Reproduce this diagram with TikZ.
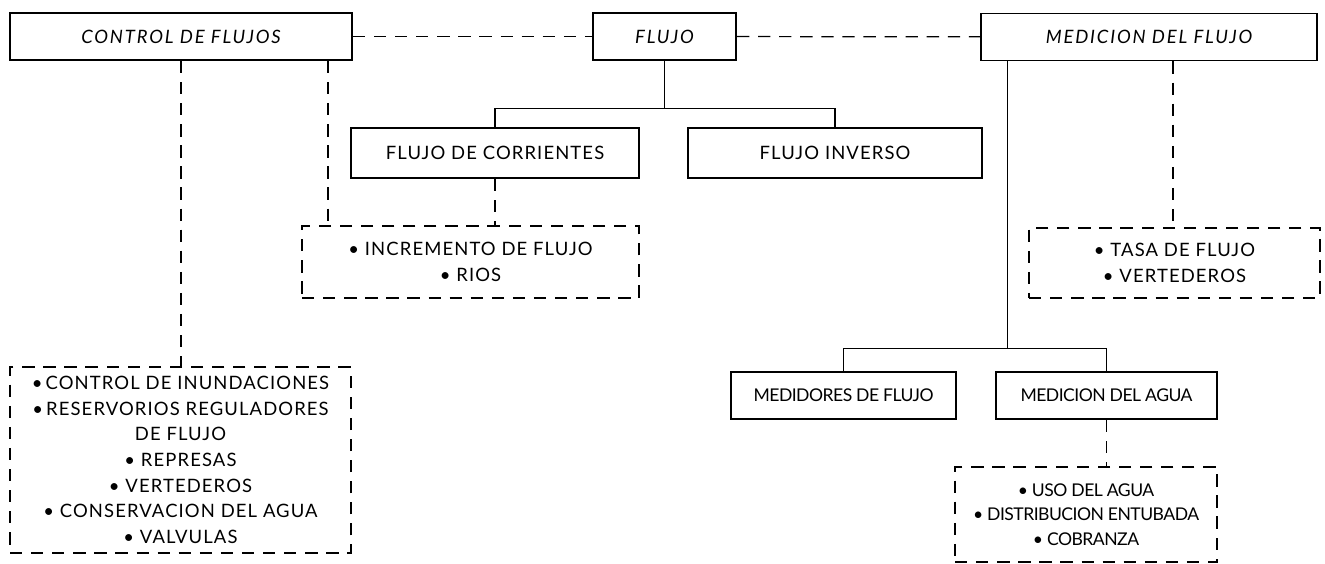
\documentclass[tikz,border=0pt]{standalone}
\usepackage{fontspec}
\setsansfont{Lato}[LetterSpace=6, ItalicFeatures={LetterSpace=10}]
\newfontfamily\narrowfont{Lato}[LetterSpace=-3]
\usepackage{xcolor}
\usepackage{tikz}

\tikzset{
    box/.style={draw, line width=1.1pt, align=center, inner sep=2pt,
        font=\sffamily\fontsize{10.5}{14.6}\selectfont},
    topbox/.style={box, font=\sffamily\itshape\fontsize{10.5}{14.6}\selectfont},
    narrowbox/.style={box, font=\narrowfont\fontsize{10}{14}\selectfont},
    dashbox/.style={box, line width=0.9pt, dash pattern=on 7pt off 5pt},
    solidlink/.style={line width=0.6pt},
    dashlink/.style={line width=0.7pt, dash pattern=on 7pt off 5pt},
}

\begin{document}
\begin{tikzpicture}[x=0.02cm, y=-0.02cm]
    \useasboundingbox (0,0) rectangle (1325,564);

    % control de flujos
    \node [topbox,
        minimum width=6.84cm,
        minimum height=0.94cm,
    ] (ctrl) at (181,36.5) {CONTROL DE FLUJOS};

    % flujo
    \node [topbox,
        minimum width=2.86cm,
        minimum height=0.94cm,
    ] (flujo) at (664.5,36.5) {FLUJO};

    % medicion del flujo
    \node [topbox,
        minimum width=6.72cm,
        minimum height=0.94cm,
    ] (medic) at (1149,37) {MEDICION DEL FLUJO};

    % flujo de corrientes
    \node [box,
        minimum width=5.76cm,
        minimum height=1.0cm,
    ] (corr) at (495,153) {FLUJO DE CORRIENTES};

    % flujo inverso
    \node [box,
        minimum width=5.88cm,
        minimum height=1.0cm,
    ] (inv) at (835,153) {FLUJO INVERSO};

    % incremento
    \node [dashbox,
        minimum width=6.74cm,
        minimum height=1.44cm,
    ] (incr) at (470.5,262) {\textbullet\ INCREMENTO DE FLUJO\\ \textbullet\ RIOS};

    % control list
    \node [dashbox,
        minimum width=6.82cm,
        minimum height=3.72cm,
    ] (ctrllist) at (180.5,460) {\textbullet\,CONTROL DE INUNDACIONES\\
        \textbullet\,RESERVORIOS REGULADORES\\ DE FLUJO\\
        \textbullet\ REPRESAS\\ \textbullet\ VERTEDEROS\\
        \textbullet\ CONSERVACION DEL AGUA\\ \textbullet\ VALVULAS};

    % tasa
    \node [dashbox,
        minimum width=5.82cm,
        minimum height=1.4cm,
    ] (tasa) at (1174.5,263) {\textbullet\ TASA DE FLUJO\\ \textbullet\ VERTEDEROS};

    % medidores
    \node [narrowbox,
        minimum width=4.5cm,
        minimum height=0.94cm,
    ] (medid) at (843.5,395.5) {MEDIDORES DE FLUJO};

    % medicion del agua
    \node [narrowbox,
        minimum width=4.42cm,
        minimum height=0.94cm,
    ] (magua) at (1106.5,395.5) {MEDICION DEL AGUA};

    % uso
    \node [narrowbox, dashbox,
        font=\narrowfont\fontsize{10}{14}\selectfont,
        minimum width=5.24cm,
        minimum height=1.9cm,
    ] (uso) at (1086,514.5) {\textbullet\ USO DEL AGUA\\
        \textbullet\ DISTRIBUCION ENTUBADA\\ \textbullet\ COBRANZA};

    % top row links
    \draw[dashlink] (ctrl) -- (flujo);
    \draw[dashlink] (flujo) -- (medic);

    % flujo tree
    \draw[solidlink] (flujo.south) -- ++(0,48) coordinate (fsplit);
    \draw[solidlink] (corr.north) |- (fsplit) -| (inv.north);
    \draw[dashlink] (corr.south) -- (corr.south |- incr.north);

    % control links
    \coordinate (cdrop) at ([xshift=2.94cm]ctrl.south);
    \draw[dashlink] (cdrop) -- (cdrop |- incr.north);
    \draw[dashlink] (ctrl.south) -- (ctrl.south |- ctrllist.north);

    % medicion tree
    \coordinate (mdrop) at ([xshift=-2.84cm]medic.south);
    \draw[solidlink] (mdrop) -- ++(0,287) coordinate (msplit);
    \draw[solidlink] (medid.north) |- (msplit) -| (magua.north);
    \draw[dashlink] (magua.south) -- (magua.south |- uso.north);
    \coordinate (mdash) at ([xshift=0.48cm]medic.south);
    \draw[dashlink] (mdash) -- (mdash |- tasa.north);
\end{tikzpicture}
\end{document}
